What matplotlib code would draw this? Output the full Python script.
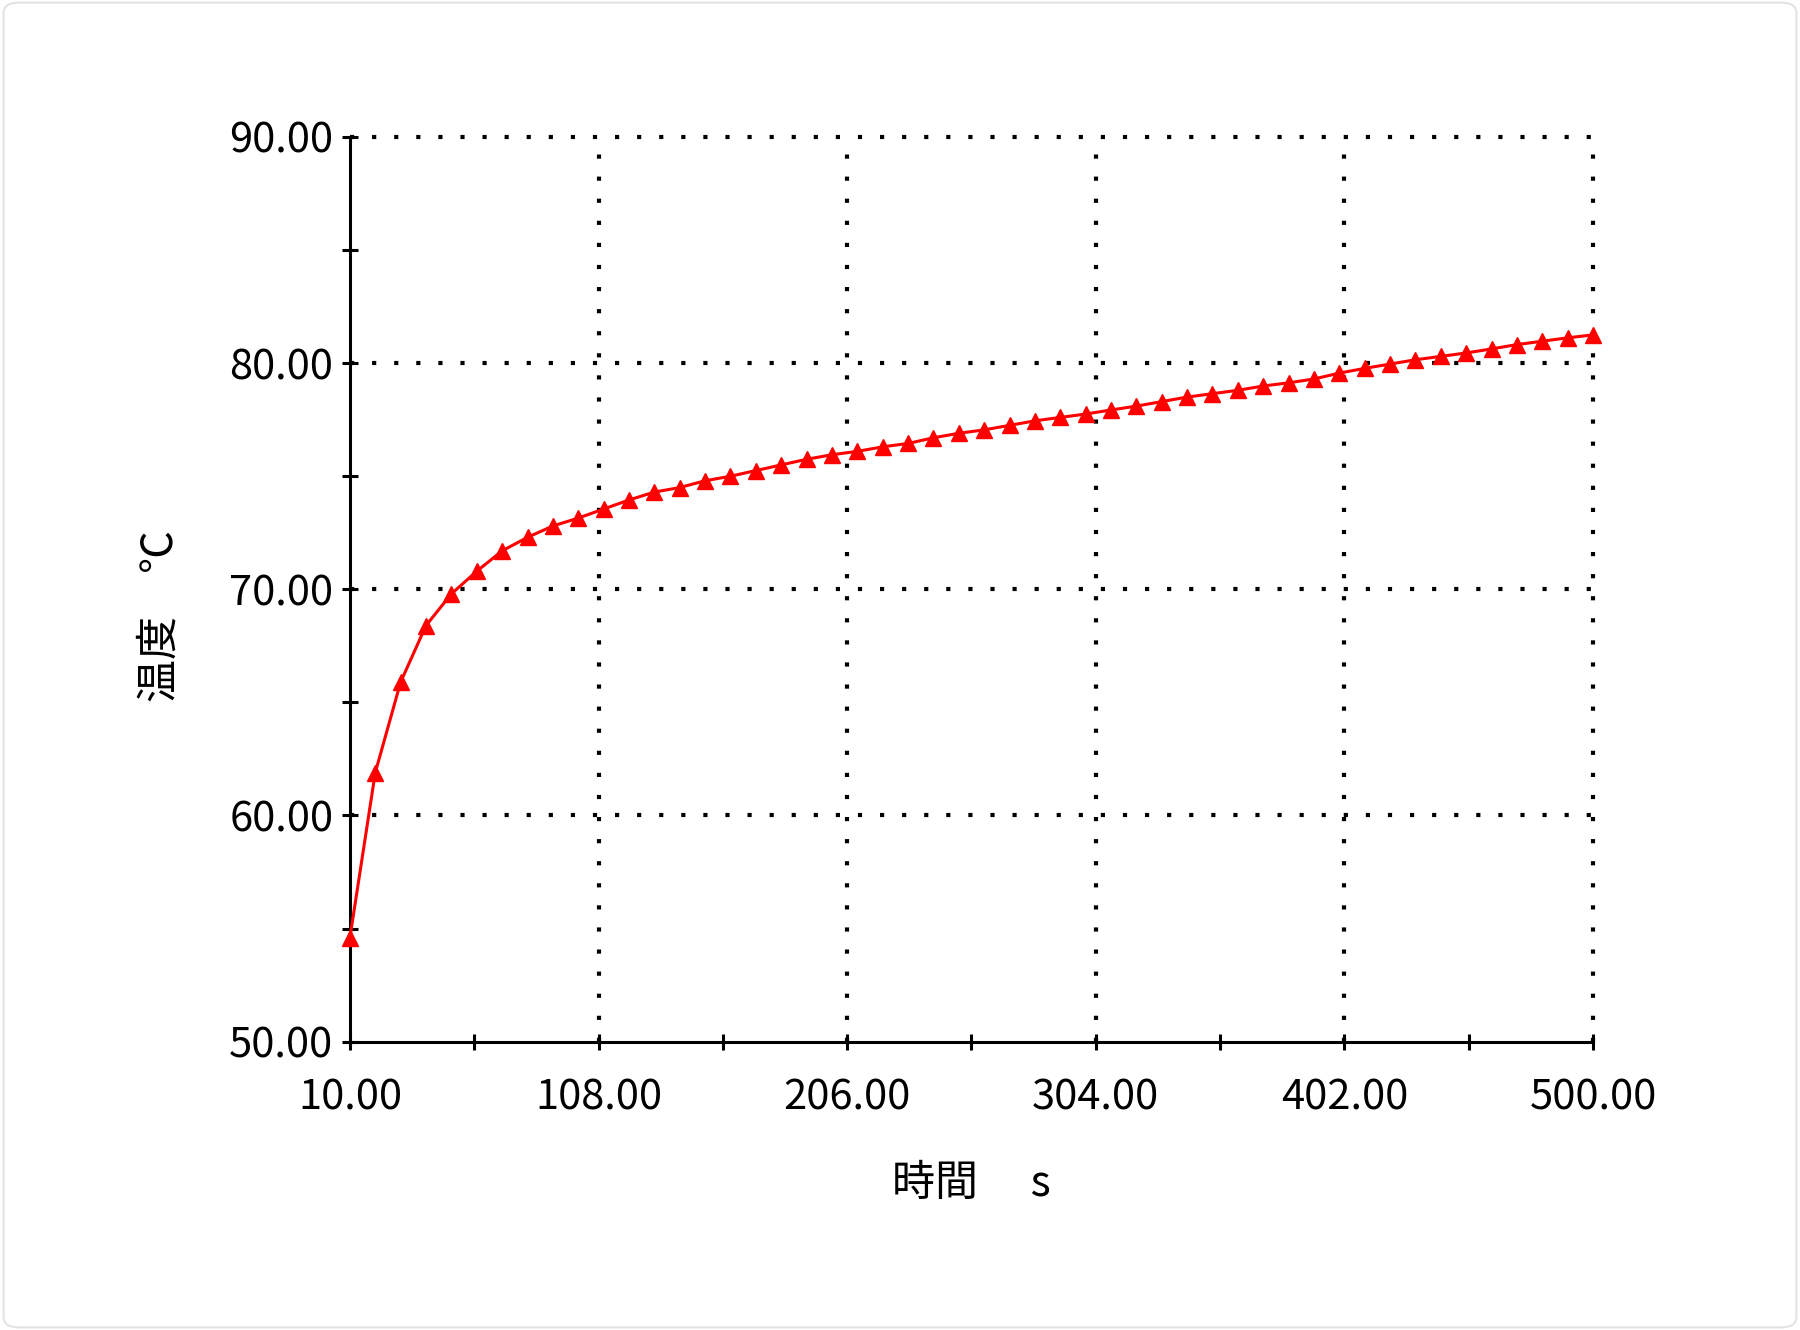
import numpy as np
import matplotlib.pyplot as plt
from matplotlib.patches import FancyBboxPatch
from matplotlib.ticker import FixedLocator, FormatStrFormatter

plt.rcParams['font.family'] = ['Noto Sans CJK JP', 'DejaVu Sans']

# --- Daten ------------------------------------------------------------------
zeit = list(range(10, 501, 10))   # s
temperatur = [
    54.6, 61.9, 65.9, 68.4, 69.8, 70.8, 71.7, 72.3, 72.8, 73.15,
    73.55, 73.95, 74.3, 74.5, 74.8, 75.0, 75.25, 75.5, 75.75, 75.95,
    76.1, 76.3, 76.45, 76.7, 76.9, 77.05, 77.25, 77.45, 77.6, 77.75,
    77.93, 78.1, 78.3, 78.5, 78.65, 78.8, 78.99, 79.13, 79.3, 79.56,
    79.77, 79.96, 80.15, 80.3, 80.45, 80.63, 80.82, 80.97, 81.12, 81.25,
]
x_ticks = [10, 108, 206, 304, 402, 500]
y_ticks = [50, 60, 70, 80, 90]
x_label = '時間\u3000 s'
y_label = '温度\u3000℃'

# --- Abbildung --------------------------------------------------------------
fig = plt.figure(figsize=(18, 13.3), dpi=100)
ax = fig.add_axes([0.1944, 0.2168, 0.6906, 0.6802])

# abgerundeter Rahmen um das ganze Bild
fig.patches.append(FancyBboxPatch((0.002, 0.002), 0.996, 0.996,
                                  boxstyle='round,pad=0,rounding_size=0.008',
                                  transform=fig.transFigure, fill=False,
                                  edgecolor='#e2e2e2', linewidth=1.5))

ax.plot(zeit, temperatur, color='#ff0000', linewidth=2.2,
        marker='^', markersize=12, markerfacecolor='#ff0000',
        markeredgecolor='#ff0000', zorder=3, clip_on=False)

ax.set_xlim(10, 500)
ax.set_ylim(50, 90)

ax.xaxis.set_major_locator(FixedLocator(x_ticks))
ax.yaxis.set_major_locator(FixedLocator(y_ticks))
ax.xaxis.set_minor_locator(FixedLocator([(a + b) / 2 for a, b in zip(x_ticks[:-1], x_ticks[1:])]))
ax.yaxis.set_minor_locator(FixedLocator([v + 5 for v in y_ticks[:-1]]))
ax.xaxis.set_major_formatter(FormatStrFormatter('%.2f'))
ax.yaxis.set_major_formatter(FormatStrFormatter('%.2f'))

for s in ['top', 'right']:
    ax.spines[s].set_visible(False)
for s in ['left', 'bottom']:
    ax.spines[s].set_linewidth(2.2)
    ax.spines[s].set_color('black')

ax.tick_params(which='both', direction='inout', length=12, width=2.2, color='black')
ax.tick_params(axis='x', which='major', labelsize=30, pad=20)
ax.tick_params(axis='y', which='major', labelsize=30, pad=6)

ax.grid(True, which='major', color='black', linewidth=3,
        linestyle=(0, (1, 4.3)), dash_capstyle='butt')
ax.set_axisbelow(True)
# Rasterpunkte am oberen/rechten Rand nicht abschneiden, an den Achsen weglassen
xg, yg = ax.get_xgridlines(), ax.get_ygridlines()
for gl in xg + yg:
    gl.set_clip_on(False)
xg[0].set_visible(False)
yg[0].set_visible(False)

ax.set_xlabel(x_label, fontsize=31)
ax.set_ylabel(y_label, fontsize=31)
ax.xaxis.set_label_coords(0.5, -0.133)
ax.yaxis.set_label_coords(-0.135, 0.47)

fig.savefig('out.png', dpi=100, facecolor='white')
